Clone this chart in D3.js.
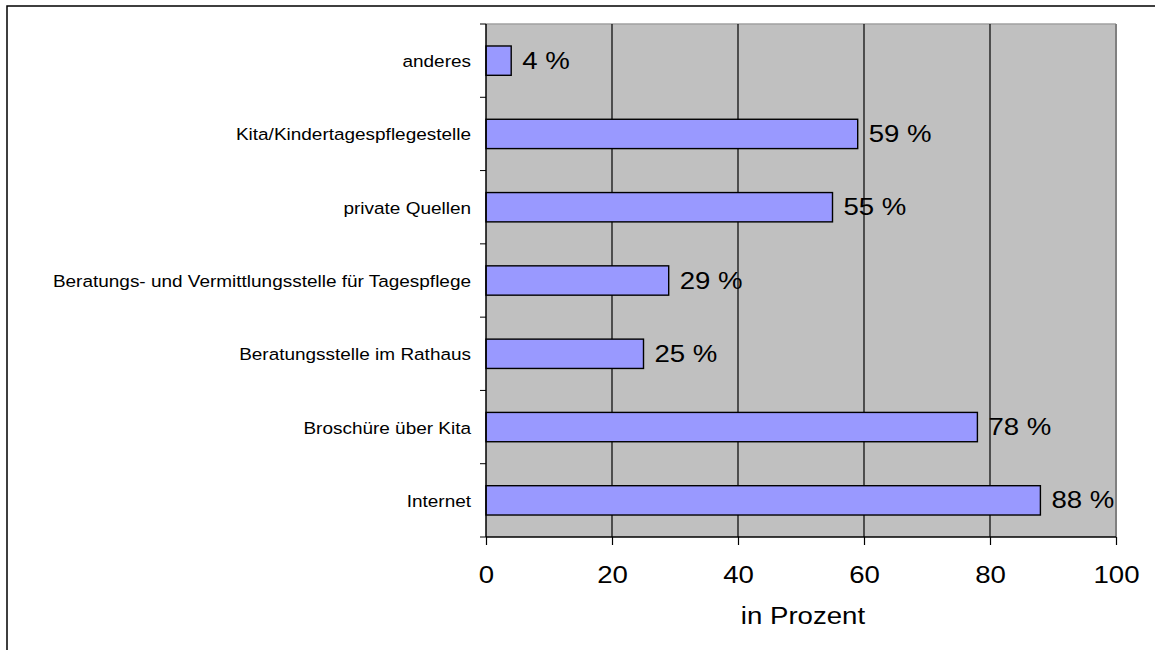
<!DOCTYPE html>
<html>
<head>
<meta charset="utf-8">
<script src="https://cdn.jsdelivr.net/npm/d3@7"></script>
<style>
  html, body { margin: 0; padding: 0; background: #fff; }
  svg { display: block; }
  text { font-family: "Liberation Sans", Arial, sans-serif; fill: #000; }
</style>
</head>
<body>
<svg id="chart" width="1155" height="650"></svg>
<script>
const categories = [
  "anderes",
  "Kita/Kindertagespflegestelle",
  "private Quellen",
  "Beratungs- und Vermittlungsstelle für Tagespflege",
  "Beratungsstelle im Rathaus",
  "Broschüre über Kita",
  "Internet"
];
const values = [4, 59, 55, 29, 25, 78, 88];
const xTicks = [0, 20, 40, 60, 80, 100];
const xTitle = "in Prozent";

const W = 1155, H = 650;
const plot = { left: 486, right: 1116, top: 24, bottom: 537 };
const sx = 1.15; // horizontal stretch of the text in the reference

const svg = d3.select("#chart");

// outer frame (only top and left visible)
svg.append("rect")
  .attr("x", 7).attr("y", 6)
  .attr("width", W + 20).attr("height", H + 20)
  .attr("fill", "#fff").attr("stroke", "#000").attr("stroke-width", 1.5);

const x = d3.scaleLinear().domain([0, 100]).range([plot.left, plot.right]);
const y = d3.scaleBand().domain(categories)
  .range([plot.top, plot.bottom])
  .paddingInner(0.6).paddingOuter(0.3);

// plot background
svg.append("rect")
  .attr("x", plot.left).attr("y", plot.top)
  .attr("width", plot.right - plot.left).attr("height", plot.bottom - plot.top)
  .attr("fill", "#c0c0c0");
// top and right borders (gray)
svg.append("line")
  .attr("x1", plot.left).attr("x2", plot.right)
  .attr("y1", plot.top).attr("y2", plot.top)
  .attr("stroke", "#a0a0a0").attr("stroke-width", 1.5);
svg.append("line")
  .attr("x1", plot.right).attr("x2", plot.right)
  .attr("y1", plot.top).attr("y2", plot.bottom)
  .attr("stroke", "#808080").attr("stroke-width", 2);

// gridlines
svg.append("g").selectAll("line")
  .data(xTicks.filter(t => t > 0 && t < 100))
  .join("line")
  .attr("x1", d => x(d)).attr("x2", d => x(d))
  .attr("y1", plot.top).attr("y2", plot.bottom)
  .attr("stroke", "#000").attr("stroke-width", 1.2);

// bars
svg.append("g").selectAll("rect")
  .data(categories)
  .join("rect")
  .attr("x", x(0))
  .attr("y", d => y(d))
  .attr("width", (d, i) => x(values[i]) - x(0))
  .attr("height", y.bandwidth())
  .attr("fill", "#9999ff")
  .attr("stroke", "#000").attr("stroke-width", 1.4);

// value labels
svg.append("g").selectAll("text")
  .data(categories)
  .join("text")
  .attr("transform", (d, i) =>
    `translate(${x(values[i]) + 11},${y(d) + y.bandwidth() / 2 + 8}) scale(${sx},1)`)
  .attr("font-size", 24)
  .text((d, i) => values[i] + " %");

// x axis
const xAxis = svg.append("g")
  .attr("transform", `translate(0,${plot.bottom})`)
  .call(d3.axisBottom(x).tickValues(xTicks).tickSize(8).tickFormat(d3.format("d")));
xAxis.select(".domain").attr("stroke", "#000").attr("stroke-width", 1.5)
  .attr("d", `M${plot.left},0H${plot.right}`);
xAxis.selectAll(".tick line").attr("stroke", "#000").attr("stroke-width", 1.2);
xAxis.selectAll(".tick text")
  .attr("font-family", null)
  .attr("font-size", 24)
  .attr("y", 0).attr("dy", null)
  .attr("transform", `translate(0,46) scale(${sx},1)`);

// y axis line and ticks at band boundaries
svg.append("line")
  .attr("x1", plot.left).attr("x2", plot.left)
  .attr("y1", plot.top).attr("y2", plot.bottom)
  .attr("stroke", "#000").attr("stroke-width", 1.5);
const step = y.step();
const boundaries = d3.range(categories.length + 1).map(i => plot.top + i * step);
svg.append("g").selectAll("line")
  .data(boundaries)
  .join("line")
  .attr("x1", plot.left - 6).attr("x2", plot.left)
  .attr("y1", d => d).attr("y2", d => d)
  .attr("stroke", "#000").attr("stroke-width", 1);

// category labels
svg.append("g").selectAll("text")
  .data(categories)
  .join("text")
  .attr("transform", d =>
    `translate(${plot.left - 15},${y(d) + y.bandwidth() / 2 + 6.5}) scale(${sx},1)`)
  .attr("text-anchor", "end")
  .attr("font-size", 16.5)
  .text(d => d);

// axis title
svg.append("text")
  .attr("transform", `translate(${(plot.left + plot.right) / 2 + 2},624) scale(${sx},1)`)
  .attr("text-anchor", "middle")
  .attr("font-size", 24)
  .text(xTitle);
</script>
</body>
</html>
